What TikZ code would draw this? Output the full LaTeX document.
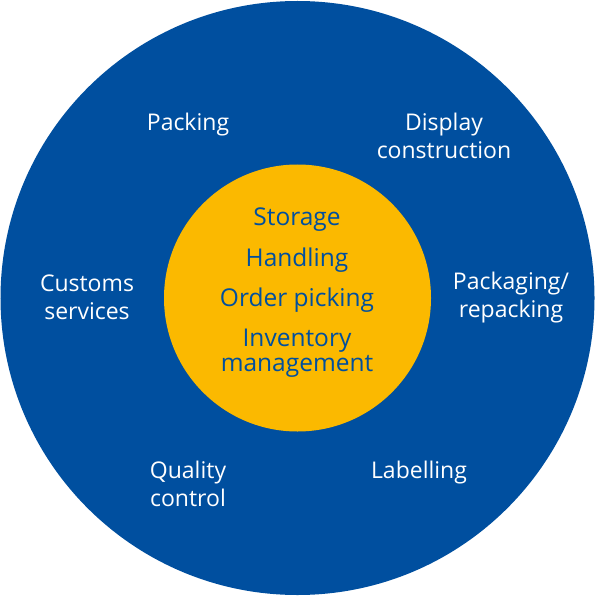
\documentclass[tikz,border=0pt]{standalone}
\usepackage{fontspec}
\setmainfont{Open Sans}
\definecolor{dblue}{RGB}{0,79,159}
\definecolor{dyellow}{RGB}{251,185,0}
\begin{document}
\begin{tikzpicture}[x=1bp,y=-1bp,
  outer/.style={text=white,font=\fontsize{23bp}{28bp}\selectfont,align=center,inner sep=0pt},
  inner/.style={text=dblue,font=\fontsize{24.5bp}{25bp}\selectfont,align=center,inner sep=0pt}]
\useasboundingbox (0,0) rectangle (595,596);
\fill[dblue] (297.5,298) circle[radius=297];
\fill[dyellow] (297.5,298) circle[radius=133.5];
\node[outer] (packing) at (188,125) {Packing};
\node[outer] (display) at (444,135.5) {Display\\construction};
\node[outer] (customs) at (87,297.5) {Customs\\services};
\node[outer] (packaging) at (511,298) {Packaging/\\repacking};
\node[outer] (quality) at (188,484) {Quality\\control};
\node[outer] (labelling) at (419,473) {Labelling};
\node[inner] (storage) at (297,220) {Storage};
\node[inner] (handling) at (297,260) {Handling};
\node[inner] (order) at (297,300) {Order picking};
\node[inner] (inventory) at (297,353) {Inventory\\management};
\end{tikzpicture}
\end{document}
